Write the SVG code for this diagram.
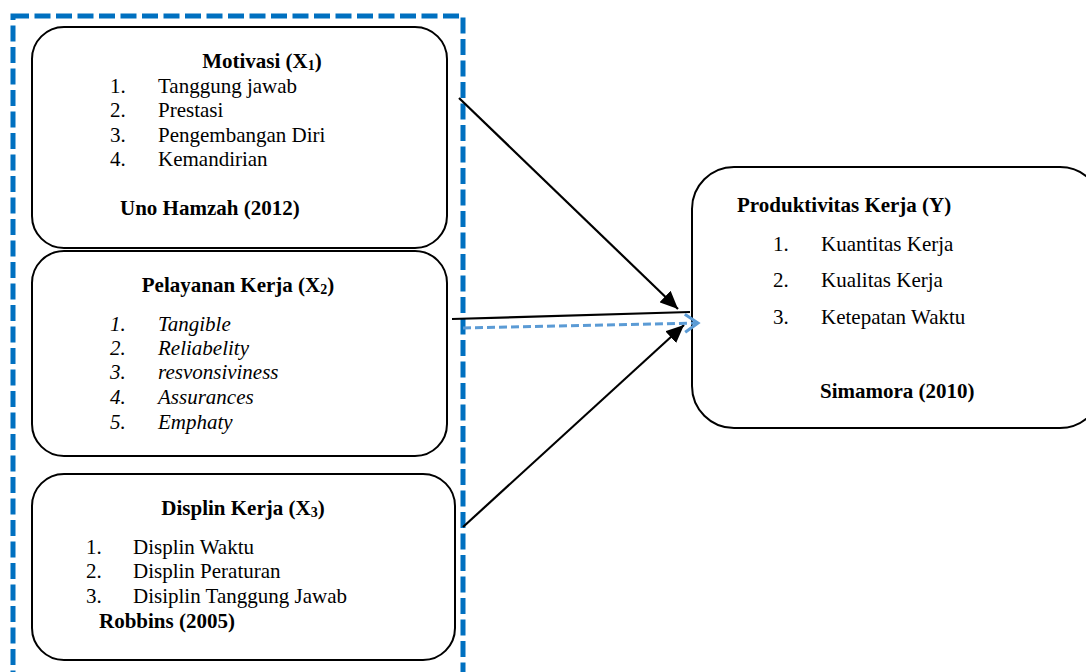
<svg xmlns="http://www.w3.org/2000/svg" width="1086" height="672" viewBox="0 0 1086 672">
<style>
.box{fill:#fff;stroke:#000;stroke-width:2}
.t{font-family:"Liberation Serif","Times New Roman",serif;font-size:21px;fill:#000}
.b{font-weight:bold}
.i{font-style:italic}
.sub{font-size:14px}
.conn{stroke:#000;stroke-width:2.2;fill:none}
</style>
<defs>
<marker id="ah" markerUnits="userSpaceOnUse" markerWidth="20" markerHeight="16" refX="18" refY="8" orient="auto">
<path d="M0,0 L18,8 L0,16 Z" fill="#000"/>
</marker>
<marker id="ahBlue" markerUnits="userSpaceOnUse" markerWidth="18" markerHeight="22" refX="15" refY="11" orient="auto">
<path d="M2,2 L15,11 L2,20" fill="none" stroke="#5B9BD5" stroke-width="3"/>
</marker>
</defs>
<rect id="group-frame" x="13" y="16" width="450" height="670" fill="none" stroke="#0070C0" stroke-width="5" stroke-dasharray="16,5.5"/>
<g id="node-x1">
<rect class="box" x="32" y="27" width="415" height="221" rx="32"/>
<text class="t b" x="262" y="68" text-anchor="middle">Motivasi (X<tspan class="sub" dy="2">1</tspan><tspan dy="-2">)</tspan></text>
<text class="t" x="110" y="93">1.</text><text class="t" x="158" y="93">Tanggung jawab</text>
<text class="t" x="110" y="117">2.</text><text class="t" x="158" y="117">Prestasi</text>
<text class="t" x="110" y="142">3.</text><text class="t" x="158" y="142">Pengembangan Diri</text>
<text class="t" x="110" y="166">4.</text><text class="t" x="158" y="166">Kemandirian</text>
<text class="t b" x="120" y="215">Uno Hamzah (2012)</text>
</g>
<g id="node-x2">
<rect class="box" x="32" y="251" width="415" height="205" rx="32"/>
<text class="t b" x="238" y="292" text-anchor="middle">Pelayanan Kerja (X<tspan class="sub" dy="2">2</tspan><tspan dy="-2">)</tspan></text>
<text class="t i" x="110" y="331">1.</text><text class="t i" x="158" y="331">Tangible</text>
<text class="t i" x="110" y="355">2.</text><text class="t i" x="158" y="355">Reliabelity</text>
<text class="t i" x="110" y="379">3.</text><text class="t i" x="158" y="379">resvonsiviness</text>
<text class="t i" x="110" y="404">4.</text><text class="t i" x="158" y="404">Assurances</text>
<text class="t i" x="110" y="429">5.</text><text class="t i" x="158" y="429">Emphaty</text>
</g>
<g id="node-x3">
<rect class="box" x="32" y="474" width="423" height="186" rx="32"/>
<text class="t b" x="243" y="515" text-anchor="middle">Displin Kerja (X<tspan class="sub" dy="2">3</tspan><tspan dy="-2">)</tspan></text>
<text class="t" x="86" y="554">1.</text><text class="t" x="133" y="554">Displin Waktu</text>
<text class="t" x="86" y="578">2.</text><text class="t" x="133" y="578">Displin Peraturan</text>
<text class="t" x="86" y="603">3.</text><text class="t" x="133" y="603">Disiplin Tanggung Jawab</text>
<text class="t b" x="99" y="628">Robbins (2005)</text>
</g>
<g id="node-y">
<rect class="box" x="692" y="167" width="410" height="261" rx="42"/>
<text class="t b" x="737" y="212">Produktivitas Kerja (Y)</text>
<text class="t" x="773" y="251">1.</text><text class="t" x="821" y="251">Kuantitas Kerja</text>
<text class="t" x="773" y="287">2.</text><text class="t" x="821" y="287">Kualitas Kerja</text>
<text class="t" x="773" y="324">3.</text><text class="t" x="821" y="324">Ketepatan Waktu</text>
<text class="t b" x="820" y="398">Simamora (2010)</text>
</g>
<g id="connectors">
<line class="conn" x1="459" y1="98" x2="678" y2="309" marker-end="url(#ah)"/>
<line class="conn" x1="452" y1="319" x2="690" y2="312"/>
<line class="conn" x1="463" y1="527" x2="684" y2="325" marker-end="url(#ah)"/>
<line x1="463" y1="328" x2="698" y2="323" stroke="#5B9BD5" stroke-width="3" stroke-dasharray="8,4" marker-end="url(#ahBlue)"/>
</g>
</svg>
